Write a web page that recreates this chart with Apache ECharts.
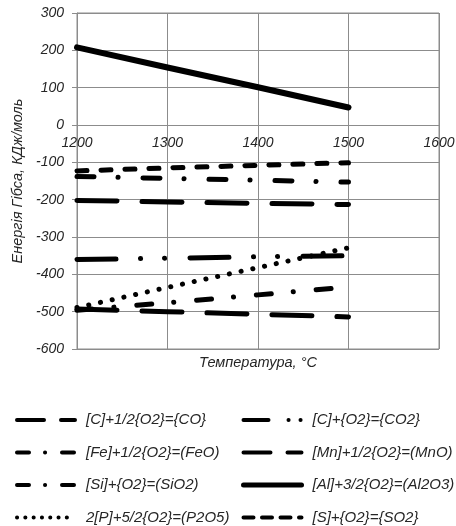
<!DOCTYPE html>
<html>
<head>
<meta charset="utf-8">
<script src="https://cdn.jsdelivr.net/npm/echarts@6/dist/echarts.min.js"></script>
<style>
html,body{margin:0;padding:0;background:#fff;}
#c{width:456px;height:526px;}
</style>
</head>
<body>
<div id="c"></div>
<script>
// ---- data ----
var temps = [1200, 1300, 1400, 1500];
var seriesNames = [
  '[C]+1/2{O2}={CO}', '[C]+{O2}={CO2}',
  '[Fe]+1/2{O2}=(FeO)', '[Mn]+1/2{O2}=(MnO)',
  '[Si]+{O2}=(SiO2)', '[Al]+3/2{O2}=(Al2O3)',
  '2[P]+5/2{O2}=(P2O5)', '[S]+{O2}={SO2}'
];
var valCO    = [-202, -206, -210, -213];
var valCO2   = [-360, -357, -353, -350];
var valFeO   = [-138, -143, -148, -153];
var valMnO   = [-493, -500, -507, -514];
var valSiO2  = [-496, -476, -455, -434];
var valAl2O3 = [208, 154, 101, 47];
var valP2O5  = [-489, -435, -382, -329];
var valSO2   = [-123, -115, -108, -101];
var xTicks = [1200, 1300, 1400, 1500, 1600];
var yTicks = [-600, -500, -400, -300, -200, -100, 0, 100, 200, 300];

// ---- styles ----
var FONT = "Arial, 'Liberation Sans', sans-serif";
var TXT = '#262626';
var GRIDC = '#8c8c8c';
var values = [valCO, valCO2, valFeO, valMnO, valSiO2, valAl2O3, valP2O5, valSO2];
var plotDash = [
  [40, 25],
  [39, 24.5, 0.1, 23.9, 0.1, 25.4],
  [17, 24, 0.1, 24.9],
  [40, 25],
  [15, 22, 0.1, 22.9],
  'solid',
  [0.1, 11.9],
  [10, 14]
];
var plotWidth = [5, 5, 5, 5, 5, 6, 5, 5];
var legendDash = [
  [27, 17],
  [25, 20, 0.1, 11.9, 0.1, 20],
  [12, 16, 0.1, 16.9],
  [27, 17],
  [12, 16, 0.1, 16.9],
  'solid',
  [0.1, 8.2],
  [10, 8.5]
];
var legendWidth = [4, 4, 4, 4, 4, 5, 4, 4];

function pairs(v) { return temps.map(function (t, i) { return [t, v[i]]; }); }

var series = seriesNames.map(function (n, i) {
  return {
    name: n, type: 'line', data: pairs(values[i]),
    symbol: 'none', showSymbol: false, silent: true, animation: false,
    lineStyle: { color: '#000', width: plotWidth[i], type: plotDash[i], cap: 'round', join: 'round' },
    itemStyle: { color: '#000' },
    z: 3
  };
});

function legendItems(idx) {
  return idx.map(function (i) {
    return { name: seriesNames[i], lineStyle: { type: legendDash[i], width: legendWidth[i], cap: 'round', color: '#000' } };
  });
}
var legendCommon = {
  orient: 'vertical', top: 412.5, height: 140, padding: 0, itemWidth: 58, itemHeight: 17, itemGap: 17.5,
  selectedMode: false,
  itemStyle: { color: 'transparent', borderWidth: 0, opacity: 0 },
  textStyle: { fontFamily: FONT, fontSize: 15, fontStyle: 'italic', color: TXT }
};

var chart = echarts.init(document.getElementById('c'), null, { renderer: 'canvas' });
chart.setOption({
  animation: false,
  backgroundColor: '#fff',
  grid: { left: 77, right: 17, top: 13, bottom: 177, containLabel: false, outerBoundsMode: 'none',
          show: true, borderColor: GRIDC, borderWidth: 1, backgroundColor: 'transparent' },
  xAxis: {
    type: 'value', min: xTicks[0], max: xTicks[xTicks.length - 1], interval: 100,
    position: 'bottom', offset: -224,
    axisLine: { onZero: false, lineStyle: { color: GRIDC, width: 1 } },
    axisTick: { show: false },
    splitLine: { show: true, lineStyle: { color: GRIDC, width: 1 } },
    axisLabel: { margin: 11, fontFamily: FONT, fontSize: 14, fontStyle: 'italic', color: TXT,
                 formatter: function (v) { return String(v); } },
    name: 'Температура, °C', nameLocation: 'middle', nameGap: 230,
    nameTextStyle: { fontFamily: FONT, fontSize: 14.5, fontStyle: 'italic', color: TXT }
  },
  yAxis: {
    type: 'value', min: yTicks[0], max: yTicks[yTicks.length - 1], interval: 100,
    axisLine: { show: true, onZero: false, lineStyle: { color: GRIDC, width: 1 } },
    axisTick: { show: true, length: 5, lineStyle: { color: GRIDC } },
    splitLine: { show: true, lineStyle: { color: GRIDC, width: 1 } },
    axisLabel: { margin: 13, fontFamily: FONT, fontSize: 14, fontStyle: 'italic', color: TXT },
    name: 'Енергія Гібса, КДж/моль', nameLocation: 'middle', nameGap: 51,
    nameTextStyle: { fontFamily: FONT, fontSize: 14.5, fontStyle: 'italic', color: TXT }
  },
  legend: [
    Object.assign({}, legendCommon, { left: 15, data: legendItems([0, 2, 4, 6]),
      textStyle: Object.assign({}, legendCommon.textStyle, { padding: [0, 0, 0, 6] }) }),
    Object.assign({}, legendCommon, { left: 241, data: legendItems([1, 3, 5, 7]),
      textStyle: Object.assign({}, legendCommon.textStyle, { padding: [0, 0, 0, 6] }) })
  ],
  series: series
});
</script>
</body>
</html>
